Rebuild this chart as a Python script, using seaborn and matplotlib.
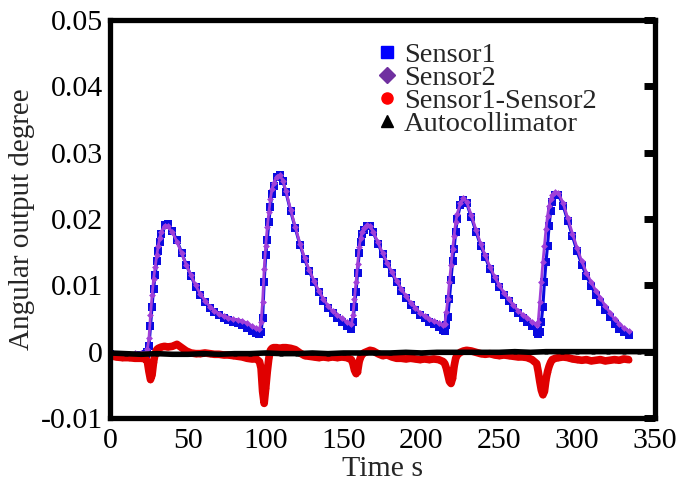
import numpy as np
import pandas as pd
import matplotlib
matplotlib.use("Agg")
import matplotlib.pyplot as plt
from matplotlib.lines import Line2D
import seaborn as sns

# time axis (s) shared by the two sensors and their difference
time_s = [0, 4, 8, 12, 16, 20, 23,
          24, 25, 26, 27, 28, 29, 30, 31, 32, 33, 35, 37,
          40, 43, 46, 49, 52, 55, 58, 61, 64, 67, 70, 73, 76, 79, 82, 85, 88, 91, 94, 96,
          97, 98, 99, 100, 101, 102, 103, 104, 105, 107, 109,
          111, 113, 116, 119, 122, 125, 128, 131, 134, 137, 140, 143, 146, 149, 152, 155,
          156, 157, 158, 159, 160, 161, 162, 163, 165, 167,
          169, 172, 175, 178, 181, 184, 187, 190, 193, 196, 199, 202, 205, 208, 211, 214,
          215, 216, 217, 218, 219, 220, 221, 222, 223, 225, 227,
          229, 232, 235, 238, 241, 244, 247, 250, 253, 256, 259, 262, 265, 268, 271, 274,
          275, 276, 277, 278, 279, 280, 281, 282, 283, 284, 286,
          288, 291, 294, 297, 300, 303, 306, 309, 312, 315, 318, 321, 324, 327, 330, 333]

sensor1 = [-0.0004, -0.0006, -0.0007, -0.0006, -0.0006, -0.0005, -0.0004,
           0.0000, 0.0008, 0.0038, 0.0068, 0.0095, 0.0116, 0.0136, 0.0152, 0.0166, 0.0177, 0.0191, 0.0192,
           0.0182, 0.0168, 0.0149, 0.0131, 0.0114, 0.0098, 0.0085, 0.0075, 0.0066, 0.0060, 0.0055, 0.0051,
           0.0047, 0.0045, 0.0043, 0.0040, 0.0036, 0.0031, 0.0028, 0.0027,
           0.0030, 0.0050, 0.0105, 0.0145, 0.0168, 0.0195, 0.0218, 0.0238, 0.0250, 0.0263, 0.0267,
           0.0258, 0.0240, 0.0212, 0.0186, 0.0161, 0.0139, 0.0121, 0.0105, 0.0090, 0.0077, 0.0066,
           0.0058, 0.0051, 0.0045, 0.0039, 0.0034,
           0.0045, 0.0068, 0.0090, 0.0118, 0.0148, 0.0166, 0.0177, 0.0184, 0.0190, 0.0189,
           0.0180, 0.0163, 0.0147, 0.0132, 0.0118, 0.0105, 0.0092, 0.0081, 0.0071, 0.0063, 0.0056,
           0.0050, 0.0045, 0.0041, 0.0037, 0.0032,
           0.0031, 0.0040, 0.0052, 0.0080, 0.0108, 0.0136, 0.0155, 0.0180, 0.0200, 0.0221, 0.0229,
           0.0224, 0.0203, 0.0181, 0.0160, 0.0142, 0.0125, 0.0110, 0.0097, 0.0086, 0.0076, 0.0066,
           0.0058, 0.0051, 0.0045, 0.0038, 0.0030,
           0.0027, 0.0030, 0.0045, 0.0068, 0.0105, 0.0135, 0.0160, 0.0190, 0.0212, 0.0226, 0.0236,
           0.0236, 0.0220, 0.0197, 0.0174, 0.0151, 0.0131, 0.0114, 0.0099, 0.0086, 0.0075, 0.0063,
           0.0052, 0.0042, 0.0034, 0.0029, 0.0025]

sensor2 = [-0.0002, -0.0003, -0.0004, -0.0003, -0.0002, -0.0002, -0.0001,
           0.0004, 0.0020, 0.0055, 0.0085, 0.0110, 0.0128, 0.0145, 0.0160, 0.0172, 0.0181, 0.0190, 0.0189,
           0.0180, 0.0166, 0.0148, 0.0131, 0.0115, 0.0100, 0.0087, 0.0077, 0.0068, 0.0062, 0.0057, 0.0053,
           0.0050, 0.0049, 0.0048, 0.0046, 0.0043, 0.0039, 0.0035, 0.0034,
           0.0045, 0.0075, 0.0125, 0.0160, 0.0188, 0.0210, 0.0230, 0.0245, 0.0254, 0.0264, 0.0266,
           0.0258, 0.0242, 0.0214, 0.0188, 0.0163, 0.0141, 0.0123, 0.0107, 0.0092, 0.0080, 0.0069,
           0.0061, 0.0055, 0.0050, 0.0045, 0.0041,
           0.0055, 0.0080, 0.0105, 0.0132, 0.0158, 0.0172, 0.0181, 0.0186, 0.0191, 0.0189,
           0.0181, 0.0165, 0.0149, 0.0134, 0.0120, 0.0107, 0.0095, 0.0084, 0.0074, 0.0066, 0.0059,
           0.0054, 0.0049, 0.0046, 0.0043, 0.0040,
           0.0042, 0.0060, 0.0080, 0.0105, 0.0130, 0.0155, 0.0175, 0.0195, 0.0208, 0.0224, 0.0231,
           0.0226, 0.0206, 0.0184, 0.0163, 0.0145, 0.0128, 0.0113, 0.0100, 0.0089, 0.0079, 0.0070,
           0.0062, 0.0056, 0.0051, 0.0045, 0.0040,
           0.0045, 0.0075, 0.0105, 0.0135, 0.0160, 0.0185, 0.0205, 0.0220, 0.0230, 0.0236, 0.0240,
           0.0239, 0.0224, 0.0201, 0.0178, 0.0156, 0.0136, 0.0119, 0.0105, 0.0092, 0.0081, 0.0069,
           0.0059, 0.0049, 0.0042, 0.0036, 0.0031]

sensor_diff = [-0.0006, -0.0008, -0.0009, -0.0009, -0.0010, -0.0010, -0.0011,
               -0.0015, -0.0030, -0.0042, -0.0035, -0.0015, -0.0003, 0.0003, 0.0005, 0.0006, 0.0007, 0.0008, 0.0007,
               0.0008, 0.0011, 0.0006, 0.0001, -0.0002, -0.0003, -0.0003, -0.0002, -0.0003, -0.0004, -0.0004,
               -0.0005, -0.0005, -0.0006, -0.0007, -0.0008, -0.0010, -0.0011, -0.0011, -0.0015,
               -0.0025, -0.0060, -0.0078, -0.0055, -0.0030, -0.0010, 0.0002, 0.0005, 0.0006, 0.0006, 0.0005,
               0.0006, 0.0006, 0.0005, 0.0003, -0.0002, -0.0006, -0.0007, -0.0008, -0.0009, -0.0008, -0.0009,
               -0.0008, -0.0009, -0.0008, -0.0009, -0.0012,
               -0.0018, -0.0028, -0.0033, -0.0030, -0.0015, -0.0008, -0.0004, -0.0002, 0.0000, 0.0002,
               0.0001, -0.0003, -0.0006, -0.0005, -0.0008, -0.0010, -0.0010, -0.0011, -0.0010, -0.0011,
               -0.0012, -0.0011, -0.0012, -0.0011, -0.0012, -0.0015,
               -0.0018, -0.0025, -0.0035, -0.0045, -0.0048, -0.0040, -0.0022, -0.0010, -0.0005, -0.0001, 0.0001,
               0.0002, 0.0001, -0.0001, -0.0003, -0.0004, -0.0003, -0.0005, -0.0006, -0.0005, -0.0006, -0.0007,
               -0.0008, -0.0008, -0.0009, -0.0012, -0.0018,
               -0.0030, -0.0045, -0.0058, -0.0065, -0.0060, -0.0042, -0.0030, -0.0022, -0.0016, -0.0012, -0.0010,
               -0.0009, -0.0008, -0.0009, -0.0011, -0.0012, -0.0013, -0.0012, -0.0014, -0.0013, -0.0012, -0.0014,
               -0.0013, -0.0012, -0.0013, -0.0011, -0.0012]

# autocollimator reference
auto_t = [0, 10, 20, 30, 40, 50, 60, 70, 80, 90, 100, 110, 120, 130, 140, 150, 160, 170,
          180, 190, 200, 210, 220, 230, 240, 250, 260, 270, 280, 290, 300, 310, 320, 330, 340, 350]
autocollimator = [-0.0002, -0.0003, -0.0004, -0.0003, -0.0004, -0.0004, -0.0003, -0.0004, -0.0003,
                  -0.0003, -0.0002, -0.0003, -0.0003, -0.0002, -0.0003, -0.0002, -0.0002, -0.0002,
                  -0.0002, -0.0001, -0.0002, -0.0001, -0.0001, -0.0001, -0.0001, -0.0001, 0.0000,
                  -0.0001, 0.0000, 0.0000, 0.0000, 0.0000, 0.0000, 0.0000, 0.0000, 0.0000]

xticks = [0, 50, 100, 150, 200, 250, 300, 350]
yticks = [-0.01, 0, 0.01, 0.02, 0.03, 0.04, 0.05]
ytick_labels = ["-0.01", "0", "0.01", "0.02", "0.03", "0.04", "0.05"]

sns.set_style("white")
plt.rcParams["font.family"] = ["Liberation Serif", "DejaVu Serif"]

df = pd.DataFrame({"t": time_s, "s1": sensor1, "s2": sensor2, "d": sensor_diff})
df_auto = pd.DataFrame({"t": auto_t, "a": autocollimator})

fig = plt.figure(figsize=(6.85, 4.95), dpi=100)
ax = fig.add_axes([0.1606, 0.1556, 0.7956, 0.8040])

sns.lineplot(data=df, x="t", y="s1", ax=ax, color="#0a0ae0", lw=2.2, marker="s",
             markersize=5.5, markeredgewidth=0, sort=False, estimator=None, label="Sensor1")
sns.lineplot(data=df, x="t", y="s2", ax=ax, color="#a040d8", lw=2, marker="D",
             markersize=3.5, markeredgewidth=0, sort=False, estimator=None, label="Sensor2")
sns.lineplot(data=df, x="t", y="d", ax=ax, color="#e00000", lw=5.5, marker="o",
             markersize=4, markeredgewidth=0, sort=False, estimator=None, label="Sensor1-Sensor2")
sns.lineplot(data=df_auto, x="t", y="a", ax=ax, color="black", lw=4, marker="^",
             markersize=3, markeredgewidth=0, sort=False, estimator=None, label="Autocollimator")

ax.set_xlim(0, 350)
ax.set_ylim(-0.01, 0.05)
ax.set_xticks(xticks)
ax.set_xticklabels([str(v) for v in xticks])
ax.set_yticks(yticks)
ax.set_yticklabels(ytick_labels)
ax.tick_params(direction="in", length=8, width=5, labelsize=21.5, colors="black",
               right=True, top=False)
ax.tick_params(axis="x", pad=7)
ax.tick_params(axis="y", pad=5)
for s in ax.spines.values():
    s.set_linewidth(3.8)
    s.set_color("black")

ax.set_xlabel("Time s", fontsize=21.5, labelpad=2)
ax.set_ylabel("Angular output degree", fontsize=21, labelpad=4)

# legend shows markers only
labels = ["Sensor1", "Sensor2", "Sensor1-Sensor2", "Autocollimator"]
leg_colors = ["#0000ff", "#7030a0", "#ff0000", "black"]
leg_markers = ["s", "D", "o", "^"]
handles = [Line2D([], [], ls="none", marker=m, color=c, markersize=8)
           for m, c in zip(leg_markers, leg_colors)]
ax.legend(handles, labels, loc="upper left", bbox_to_anchor=(0.49, 0.945),
          frameon=False, fontsize=20.5, labelspacing=-0.1, handlelength=0.7,
          handletextpad=0.25, borderaxespad=0, borderpad=0)

plt.savefig("out.png", dpi=100)
